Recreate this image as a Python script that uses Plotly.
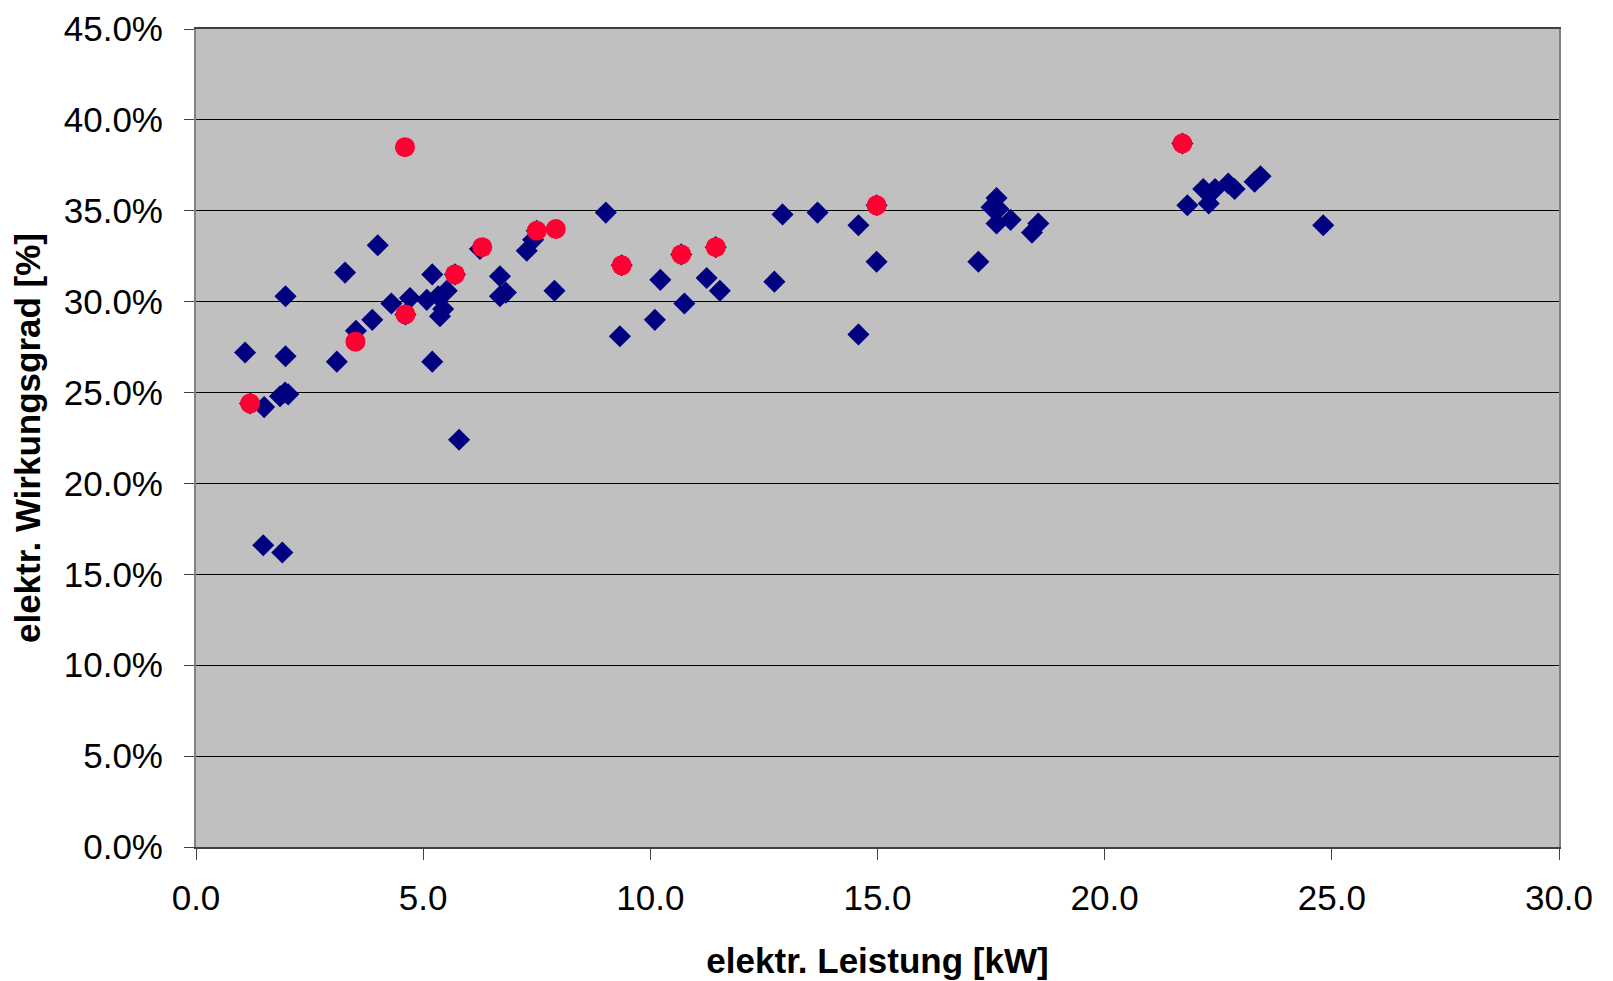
import plotly.graph_objects as go

# Blue series (diamonds): electrical power [kW], electrical efficiency [%]
blue_x = [1.08, 1.19, 1.50, 1.48, 1.90, 1.97, 1.97, 1.85, 2.03, 1.96,
          3.10, 3.28, 3.52, 3.88, 4.00, 4.30, 4.61, 4.71, 5.08, 5.20,
          5.20, 5.33, 5.52, 5.44, 5.37, 5.70, 5.79, 6.25, 6.69, 6.69,
          6.82, 7.28, 7.42, 7.50, 7.89, 9.02, 9.33, 9.37, 10.10, 10.22,
          10.68, 10.75, 11.24, 11.44, 11.53, 12.73, 12.91, 13.68, 14.58, 14.58,
          14.98, 14.98, 17.22, 17.51, 17.62, 17.66, 17.62, 17.93, 18.40, 18.54,
          21.71, 21.82, 22.17, 22.29, 22.43, 22.72, 22.86, 23.30, 23.43, 24.81]
blue_y = [27.2, 24.4, 24.2, 16.6, 16.2, 30.3, 27.0, 24.8, 24.9, 25.0,
          26.7, 31.6, 28.4, 29.0, 33.1, 29.9, 29.3, 30.2, 30.1, 31.5,
          26.7, 30.3, 30.6, 29.6, 29.2, 31.5, 22.4, 32.9, 31.4, 30.3,
          30.5, 32.8, 33.4, 33.9, 30.6, 34.9, 28.1, 32.0, 29.0, 31.2,
          32.6, 29.9, 31.3, 33.0, 30.6, 31.1, 34.8, 34.9, 34.2, 28.2,
          35.3, 32.2, 32.2, 35.2, 35.7, 35.1, 34.3, 34.5, 33.8, 34.3,
          38.7, 35.3, 36.2, 35.4, 36.2, 36.5, 36.2, 36.6, 36.9, 34.2]

# Red series (circles)
red_x = [1.19, 3.51, 4.60, 4.61, 5.70, 6.30, 7.50, 7.92, 9.37, 10.68, 11.44, 14.98, 21.71]
red_y = [24.4, 27.8, 38.5, 29.3, 31.5, 33.0, 33.9, 34.0, 32.0, 32.6, 33.0, 35.3, 38.7]

x_ticks = [0, 5, 10, 15, 20, 25, 30]
x_labels = ["0.0", "5.0", "10.0", "15.0", "20.0", "25.0", "30.0"]
y_ticks = [0, 5, 10, 15, 20, 25, 30, 35, 40, 45]
y_labels = ["0.0%", "5.0%", "10.0%", "15.0%", "20.0%", "25.0%", "30.0%", "35.0%", "40.0%", "45.0%"]

FONT = "Liberation Sans, Arial, sans-serif"
FS = 35

fig = go.Figure()
fig.add_trace(go.Scatter(
    x=blue_x, y=blue_y, mode="markers", showlegend=False,
    marker=dict(symbol="diamond", size=17, color="#000080", line=dict(width=0)),
))
fig.add_trace(go.Scatter(
    x=red_x, y=red_y, mode="markers", showlegend=False,
    marker=dict(symbol="circle", size=20, color="#FF0033", line=dict(width=0)),
))

fig.update_layout(
    width=1613, height=981,
    margin=dict(l=188, r=62, t=21, b=142),
    paper_bgcolor="white",
    plot_bgcolor="#C0C0C0",
    font=dict(family=FONT, size=FS, color="black"),
)
fig.update_xaxes(
    range=[0, 30], tickvals=x_ticks, ticktext=x_labels,
    showgrid=False, zeroline=False, automargin=False,
    showline=True, linecolor="#404040", linewidth=2, mirror=True,
    ticks="outside", ticklen=11, tickcolor="#404040", tickwidth=1,
    ticklabelstandoff=8, ticklabeloverflow="allow",
    tickfont=dict(family=FONT, size=FS),
    title=dict(text="<b>elektr. Leistung [kW]</b>", font=dict(family=FONT, size=FS), standoff=32),
)
fig.update_yaxes(
    range=[0, 45], tickvals=y_ticks, ticktext=y_labels,
    showgrid=True, gridcolor="#000000", gridwidth=1, zeroline=False, automargin=False,
    showline=True, linecolor="#808080", linewidth=2, mirror=True,
    ticks="outside", ticklen=10, tickcolor="#404040", tickwidth=1,
    ticklabelstandoff=14, ticklabeloverflow="allow",
    tickfont=dict(family=FONT, size=FS),
    title=dict(text="<b>elektr. Wirkungsgrad [%]</b>", font=dict(family=FONT, size=FS), standoff=14),
)

fig.write_html("out.html")
